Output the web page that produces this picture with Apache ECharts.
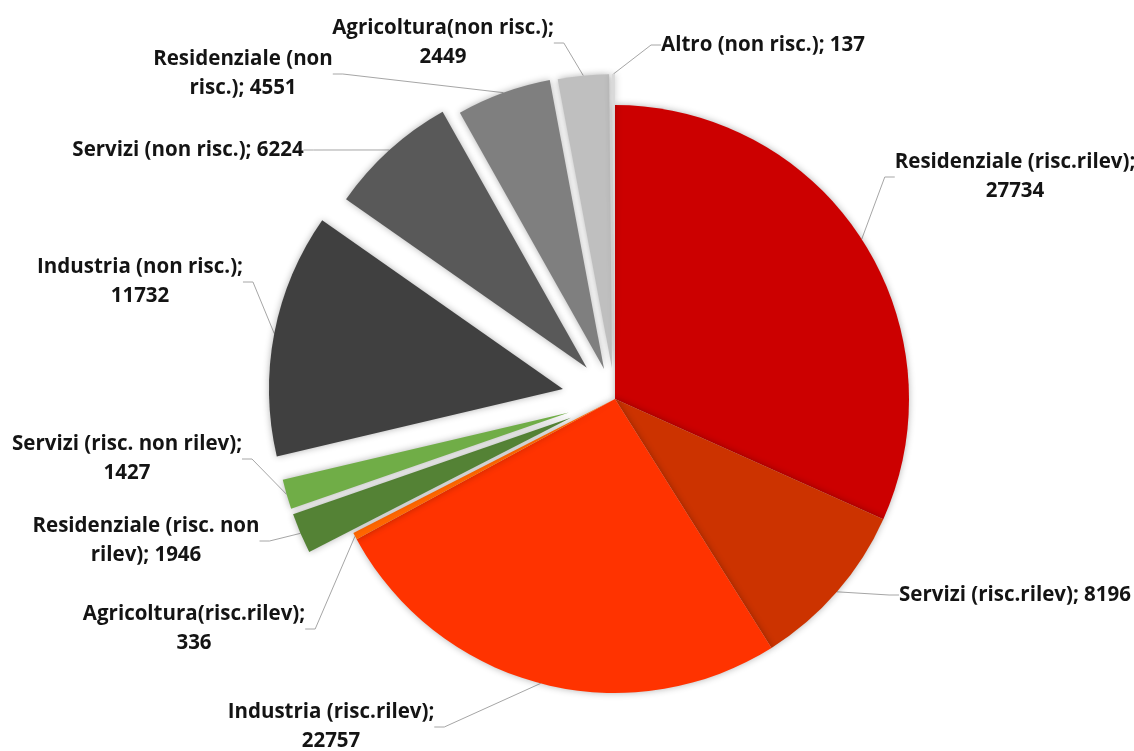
<!DOCTYPE html>
<html>
<head>
<meta charset="utf-8">
<script src="https://cdn.jsdelivr.net/npm/echarts@6/dist/echarts.min.js"></script>
<style>
  html, body { margin: 0; padding: 0; background: #ffffff; }
  #chart { width: 1134px; height: 751px; }
</style>
</head>
<body>
<div id="chart"></div>
<script>
// Consumi per settore, clockwise from 12 o'clock
const categories = [
  'Residenziale (risc.rilev)',
  'Servizi (risc.rilev)',
  'Industria (risc.rilev)',
  'Agricoltura(risc.rilev)',
  'Residenziale (risc. non rilev)',
  'Servizi (risc. non rilev)',
  'Industria (non risc.)',
  'Servizi (non risc.)',
  'Residenziale (non risc.)',
  'Agricoltura(non risc.)',
  'Altro (non risc.)'
];
const values = [27734, 8196, 22757, 336, 1946, 1427, 11732, 6224, 4551, 2449, 137];

// slice styling
const colors = ['#CC0000', '#CC3300', '#FF3300', '#FF6600', '#548235', '#70AD47',
                '#404040', '#595959', '#7F7F7F', '#BFBFBF', '#D9D9D9'];
// how far each slice is pulled out of the pie (px)
const explode = [0, 0, 0, 0, 48, 48, 53, 42, 32, 31, 31];
// words on the first line of each label (0 = single line)
const firstLineWords = [2, 0, 2, 1, 3, 4, 3, 0, 2, 2, 0];
// label block centres
const labelPos = [
  [1015, 177], [1015, 595], [331, 727], [194, 629], [146, 541], [127, 459],
  [140, 282], [188, 150], [243, 74], [443, 43], [763, 45]
];

const CENTER = [615, 399];
const RADIUS = 294;

function labelText(i) {
  const full = categories[i] + '; ' + values[i];
  const n = firstLineWords[i];
  if (!n) return full;
  const words = full.split(' ');
  return words.slice(0, n).join(' ') + '\n' + words.slice(n).join(' ');
}

// direction of a slice's bisector (clockwise from 12 o'clock), used to pull it out
const total = values.reduce((a, b) => a + b, 0);
function explodedCenter(i) {
  const before = values.slice(0, i).reduce((a, b) => a + b, 0);
  const mid = (before + values[i] / 2) / total * 2 * Math.PI;
  return [CENTER[0] + explode[i] * Math.sin(mid), CENTER[1] - explode[i] * Math.cos(mid)];
}

const hidden = {
  itemStyle: { color: 'rgba(0,0,0,0)', shadowBlur: 0, shadowColor: 'rgba(0,0,0,0)' },
  label: { show: false },
  labelLine: { show: false }
};

function pieSeries(center, visible) {
  return {
    type: 'pie',
    center,
    radius: RADIUS,
    startAngle: 90,
    clockwise: true,
    silent: true,
    animation: false,
    avoidLabelOverlap: false,
    label: {
      show: true,
      position: 'outside',
      formatter: p => labelText(p.dataIndex),
      fontFamily: 'Open Sans',
      fontWeight: 'bold',
      fontSize: 20.5,
      lineHeight: 29,
      color: '#141414',
      align: 'center'
    },
    labelLine: {
      show: true,
      length: 12,
      length2: 10,
      lineStyle: { color: '#A6A6A6', width: 1 }
    },
    labelLayout: p => ({
      x: labelPos[p.dataIndex][0],
      y: labelPos[p.dataIndex][1],
      align: 'center',
      verticalAlign: 'middle'
    }),
    itemStyle: {
      borderWidth: 0,
      shadowBlur: 7,
      shadowColor: 'rgba(0,0,0,0.3)'
    },
    data: categories.map((name, i) => visible(i)
      ? { name, value: values[i], itemStyle: { color: colors[i] } }
      : Object.assign({ name, value: values[i] }, hidden))
  };
}

// the slices that stay in place share one series; each pulled-out slice gets its own
const series = [pieSeries(CENTER, i => explode[i] === 0)];
categories.forEach((c, i) => {
  if (explode[i] > 0) series.push(pieSeries(explodedCenter(i), j => j === i));
});

const chart = echarts.init(document.getElementById('chart'), null, { renderer: 'canvas' });
chart.setOption({
  backgroundColor: '#ffffff',
  series
});
</script>
</body>
</html>
